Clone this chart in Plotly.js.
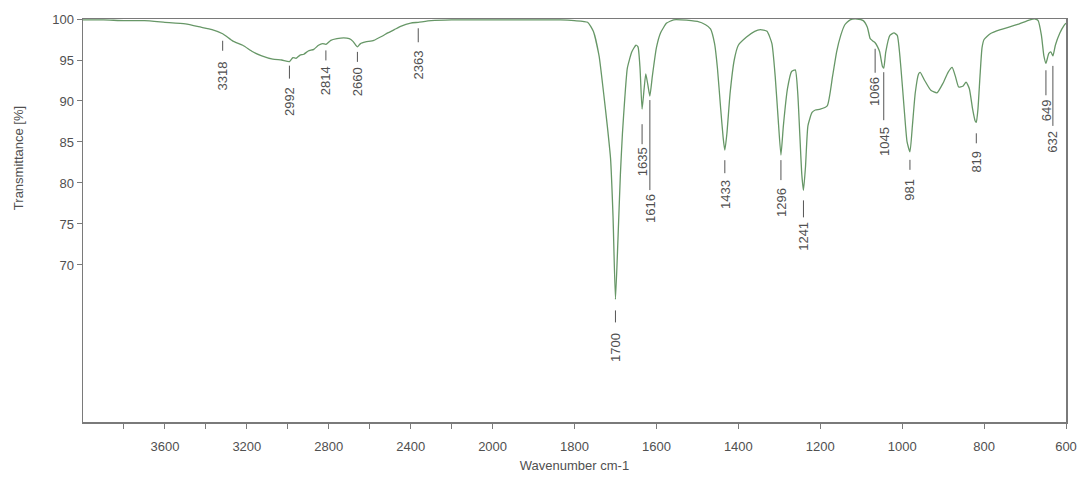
<!DOCTYPE html>
<html>
<head>
<meta charset="utf-8">
<script src="https://cdn.plot.ly/plotly-3.0.1.min.js"></script>
<style>
html,body{margin:0;padding:0;background:#fff;}
#chart{width:1086px;height:479px;}
</style>
</head>
<body>
<div id="chart"></div>
<script>
// ---- Spectrum data (wavenumber cm-1, transmittance %) ----
const wavenumber = [
  4000,3900,3800,3700,3600,3500,3424,3370,3318,3268,3220,3171,3127,3073,3030,2992,2975,2960,2940,2922,
  2900,2873,2850,2830,2814,2790,2760,2727,2700,2683,2668,2660,2645,2620,2580,2540,2512,2480,2449,2400,
  2363,2300,2200,2100,2000,1900,1834,1800,1768,1754,1740,1729,1720,1712,1706,1700,1694,1688,1683,1677,
  1671,1660,1650,1645,1640,1635,1630,1626,1621,1616,1610,1600,1590,1575,1558,1540,1500,1480,1468,1458,
  1451,1443,1437,1433,1428,1420,1410,1400,1380,1360,1346,1330,1318,1310,1303,1296,1290,1280,1270,1261,
  1255,1250,1245,1241,1236,1230,1220,1212,1200,1183,1170,1160,1150,1140,1127,1110,1095,1085,1078,1071,
  1066,1060,1055,1048,1045,1040,1030,1020,1012,1003,995,988,981,975,968,960,956,945,930,915,
  900,888,878,870,862,852,844,836,828,822,819,815,810,805,800,785,760,720,688,675,
  668,660,654,649,642,637,632,626,615,605,600
];
const transmittance = [
  99.9,99.9,99.8,99.8,99.6,99.4,99.0,98.7,98.2,97.3,96.8,96.0,95.5,95.1,95.0,94.8,95.3,95.2,95.6,95.7,
  96.1,96.3,96.8,97.0,96.9,97.4,97.6,97.7,97.6,97.3,96.8,96.6,97.0,97.2,97.4,97.9,98.3,98.7,99.1,99.5,
  99.6,99.8,99.9,99.9,99.9,99.9,99.9,99.8,99.6,98.5,95.5,91.0,87.0,83.0,76.0,65.8,73.0,81.0,86.0,90.5,
  94.0,96.0,96.8,96.6,94.0,89.0,91.5,93.3,92.0,90.6,93.0,96.5,98.3,99.5,99.9,99.9,99.7,99.3,98.8,97.0,
  94.0,89.0,85.5,84.0,86.0,91.0,95.0,96.8,97.8,98.5,98.7,98.5,97.0,93.0,88.0,83.4,87.0,91.5,93.6,93.8,
  91.0,86.0,81.0,79.1,82.0,87.0,88.6,88.9,89.0,89.4,93.0,96.0,98.0,99.3,99.9,100.0,99.8,99.0,97.6,97.3,
  97.1,96.6,96.0,94.2,94.0,96.0,98.0,98.3,98.0,94.0,89.0,85.0,83.8,87.0,91.0,93.3,93.5,92.5,91.3,91.0,
  92.2,93.5,94.1,93.0,91.7,91.8,92.3,91.5,89.0,87.6,87.4,89.0,93.0,96.5,97.5,98.2,98.7,99.3,99.9,100.0,
  99.8,98.0,95.5,94.6,95.8,96.0,95.5,96.8,98.3,99.2,99.5
];

// ---- Peak labels ----
const peakWavenumbers = [3318,2992,2814,2660,2363,1700,1635,1616,1433,1296,1241,1066,1045,981,819,649,632];
const peakLabels = peakWavenumbers.map(String);

// ---- Axis ticks ----
const xTickValues = [3800,3600,3400,3200,3000,2800,2600,2400,2200,2000,1800,1600,1400,1200,1000,800,600];
const xTickLabeled = [3600,3200,2800,2400,2000,1800,1600,1400,1200,1000,800,600];
const yTickValues = [70,75,80,85,90,95,100];

// ---- Layout config for label leader lines (pixel offsets below the curve) ----
// [line start, line end, text centre]
const labelOffsets = [
  [7,17,42],[4,17,40],[6,16,36],[5,15,35],[6,20,43],[11,23,48],[15,35,53],[4,94,112],
  [10,23,44],[5,25,47],[10,27,46],[6,30,49],[4,52,73],[8,18,38],[11,21,39],[7,32,47],[10,70,86]
];

// Instrument axis: scale is compressed by 2 above 2000 cm-1
function axisU(wn){ return wn <= 2000 ? wn : 2000 + (wn - 2000) / 2; }
function interpT(wn){
  for(let i=0;i<wavenumber.length-1;i++){
    const a=wavenumber[i], b=wavenumber[i+1];
    if(wn<=a && wn>=b){
      const f=(a-wn)/(a-b);
      return transmittance[i]+f*(transmittance[i+1]-transmittance[i]);
    }
  }
  return transmittance[transmittance.length-1];
}

const FONT = '"Liberation Sans", Arial, sans-serif';
const TXT = '#505050';
const FRAME = '#7a7a7a';

const trace = {
  x: wavenumber.map(axisU),
  y: transmittance,
  type: 'scatter',
  mode: 'lines',
  line: {color: '#679767', width: 1.3, shape: 'spline', smoothing: 0.5},
  hoverinfo: 'skip'
};

const shapes = [];
const annotations = [];
peakWavenumbers.forEach((wn,i)=>{
  const t = interpT(wn);
  const off = labelOffsets[i];
  shapes.push({
    type:'line', xref:'x', yref:'y', ysizemode:'pixel',
    x0: axisU(wn), x1: axisU(wn), yanchor: t, y0: -off[0], y1: -off[1],
    line:{color:'#555', width:1}
  });
  annotations.push({
    x: axisU(wn), y: t, xref:'x', yref:'y', showarrow:false,
    yshift: -off[2], textangle: -90, text: peakLabels[i],
    font:{family:FONT, size:13, color:TXT}
  });
});

annotations.push({
  xref:'paper', yref:'paper', x:-0.066, y:0.655, xanchor:'center', yanchor:'middle',
  showarrow:false, textangle:-90, text:'Transmittance [%]',
  font:{family:FONT, size:13, color:TXT}
});

const layout = {
  width:1086, height:479,
  margin:{l:83, r:20, t:19, b:57},
  paper_bgcolor:'#fff', plot_bgcolor:'#fff',
  showlegend:false,
  font:{family:FONT, size:13, color:TXT},
  xaxis:{
    range:[axisU(4000), axisU(600)],
    tickmode:'array',
    tickvals: xTickValues.map(axisU),
    ticktext: xTickValues.map(v => xTickLabeled.includes(v) ? String(v) : ''),
    ticks:'outside', ticklen:5, tickcolor:FRAME, tickwidth:1,
    ticklabelstandoff:7,
    showline:true, linecolor:FRAME, linewidth:1.5, mirror:true,
    showgrid:false, zeroline:false,
    tickfont:{family:FONT, size:13, color:TXT},
    title:{text:'Wavenumber cm-1', font:{family:FONT, size:13, color:TXT}, standoff:8}
  },
  yaxis:{
    range:[50.85, 100],
    tickmode:'array', tickvals:yTickValues, ticktext:yTickValues.map(String),
    ticks:'outside', ticklen:5, tickcolor:FRAME, tickwidth:1,
    showline:true, linecolor:FRAME, linewidth:1.5, mirror:true,
    showgrid:false, zeroline:false,
    tickfont:{family:FONT, size:13, color:TXT}
  },
  shapes: shapes,
  annotations: annotations
};

Plotly.newPlot('chart',[trace],layout,{displayModeBar:false, staticPlot:true});
</script>
</body>
</html>
